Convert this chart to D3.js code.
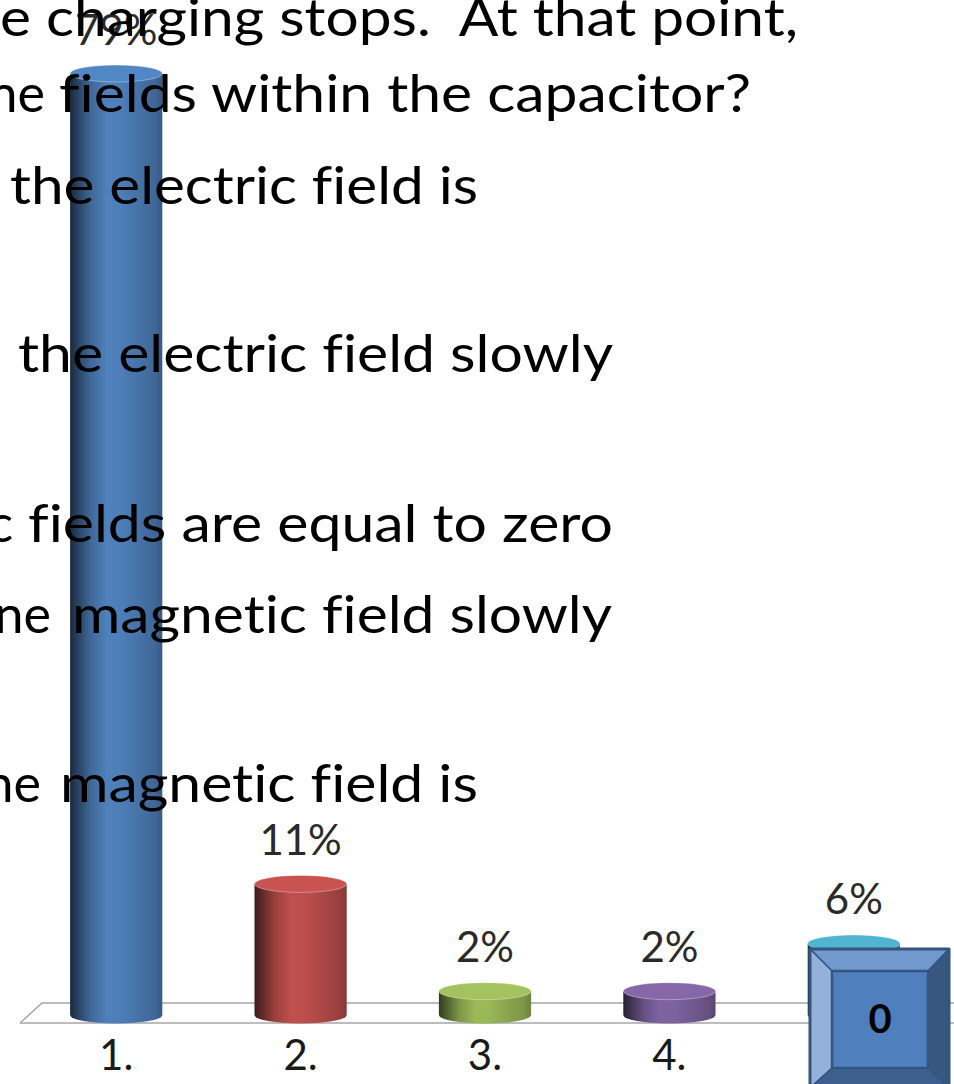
<!DOCTYPE html>
<html>
<head>
<meta charset="utf-8">
<script src="https://cdn.jsdelivr.net/npm/d3@7"></script>
<style>
  html, body { margin: 0; padding: 0; background: #fff; overflow: hidden; }
  svg { display: block; }
  text { font-variant-ligatures: none; font-feature-settings: "liga" 0, "clig" 0; }
</style>
</head>
<body>
<svg id="chart" width="954" height="1084"></svg>
<script>
// ---- data ----
const categories = ["1.", "2.", "3.", "4.", "5."];
const percentages = [79, 11, 2, 2, 6];
const barColors = ["#4F81BD", "#C0504D", "#9BBB59", "#8064A2", "#4BACC6"];

// question text behind the chart (left part of each line is cut off by the slide edge)
const questionLead = ["", "ne", "", "", "c", "ne", "ne"];
const questionBody = [
  "e charging stops.  At that point,",
  "fields within the capacitor?",
  "the electric field is",
  "the electric field slowly",
  "fields are equal to zero",
  "magnetic field slowly",
  "magnetic field is"
];
const countdownValue = "0";

// ---- layout ----
const W = 954, H = 1084;
const textLayout = [
  { x0: 0,  x1: 798, y: 36,  leadEnd: 0 },
  { x0: 59, x1: 751, y: 112, leadEnd: 45 },
  { x0: 10, x1: 478, y: 204, leadEnd: 0 },
  { x0: 18, x1: 613, y: 372, leadEnd: 0 },
  { x0: 28, x1: 613, y: 542, leadEnd: 13 },
  { x0: 72, x1: 612, y: 633, leadEnd: 51 },
  { x0: 60, x1: 478, y: 802, leadEnd: 41 }
];
const baseY = 1015;      // centre of the bottom ellipse of each cylinder
const topY = 73.5;       // centre of the top ellipse for the largest value
const capRy = 8.5;       // vertical radius of cylinder ellipses
const floorFront = 1023, floorBack = 1003, floorDepth = 22;

const svg = d3.select("#chart");
const defs = svg.append("defs");

const x = d3.scaleBand()
  .domain(categories)
  .range([24, 946])
  .paddingInner(0.5)
  .paddingOuter(0.25);

const y = d3.scaleLinear()
  .domain([0, d3.max(percentages)])
  .range([baseY, topY]);

const bars = categories.map((c, i) => ({ cat: c, value: percentages[i], color: barColors[i], i }));

// horizontal shading for the cylinder sides
const shade = [
  [0, 0.32], [0.08, 0.5], [0.22, 0.8], [0.4, 1.0], [0.55, 0.98],
  [0.75, 0.88], [0.92, 0.8], [1, 0.7]
];
bars.forEach(b => {
  const g = defs.append("linearGradient")
    .attr("id", "cyl" + b.i)
    .attr("x1", "0%").attr("x2", "100%").attr("y1", "0%").attr("y2", "0%");
  const base = d3.rgb(b.color);
  shade.forEach(([o, k]) => {
    g.append("stop")
      .attr("offset", o)
      .attr("stop-color", d3.rgb(base.r * k, base.g * k, base.b * k).formatHex());
  });
});

// ---- floor ----
const floor = svg.append("g")
  .attr("fill", "none")
  .attr("stroke", "#a6a6a6")
  .attr("stroke-width", 1.5);
floor.append("path")
  .attr("d", `M20,${floorFront} L${20 + floorDepth},${floorBack} L${W + 30},${floorBack}`);
floor.append("path")
  .attr("d", `M20,${floorFront} L${W + 10},${floorFront}`);

// ---- cylinders ----
const barG = svg.append("g");
bars.forEach(b => {
  const x0 = x(b.cat), bw = x.bandwidth(), x1 = x0 + bw, rx = bw / 2;
  const yT = y(b.value), yB = y(0);
  barG.append("path")
    .attr("d", `M${x0},${yT} L${x0},${yB} A${rx},${capRy} 0 0 0 ${x1},${yB} L${x1},${yT} Z`)
    .attr("fill", `url(#cyl${b.i})`);
  barG.append("ellipse")
    .attr("cx", x0 + rx)
    .attr("cy", yT)
    .attr("rx", rx)
    .attr("ry", capRy)
    .attr("fill", d3.color(b.color).brighter(0.12).formatHex())
    .attr("stroke", "#ffffff")
    .attr("stroke-opacity", 0.35)
    .attr("stroke-width", 1);
});

// value labels
svg.append("g")
  .selectAll("text")
  .data(bars)
  .join("text")
  .attr("x", d => x(d.cat) + x.bandwidth() / 2)
  .attr("y", d => y(d.value) - 29)
  .attr("text-anchor", "middle")
  .attr("font-family", "Lato, 'Noto Sans', sans-serif")
  .attr("font-size", 42)
  .attr("fill", "#2a2a2a")
  .text(d => d.value + "%");

// category labels
svg.append("g")
  .selectAll("text")
  .data(bars)
  .join("text")
  .attr("x", d => x(d.cat) + x.bandwidth() / 2)
  .attr("y", 1070)
  .attr("text-anchor", "middle")
  .attr("font-family", "Lato, 'Noto Sans', sans-serif")
  .attr("font-size", 42)
  .attr("fill", "#1a1a1a")
  .text(d => d.cat);

// ---- question text ----
const qG = svg.append("g")
  .attr("font-family", "Lato, 'Noto Sans', sans-serif")
  .attr("font-size", 52)
  .attr("fill", "#000");
questionBody.forEach((t, i) => {
  const L = textLayout[i];
  qG.append("text")
    .attr("x", L.x0)
    .attr("y", L.y)
    .attr("textLength", L.x1 - L.x0)
    .attr("lengthAdjust", "spacingAndGlyphs")
    .style("white-space", "pre")
    .text(t);
  if (questionLead[i]) {
    qG.append("text")
      .attr("x", L.leadEnd)
      .attr("y", L.y)
      .attr("text-anchor", "end")
      .text(questionLead[i]);
  }
});

// ---- countdown box ----
const bx0 = 810, by0 = 949, bx1 = 949, by1 = 1088, bev = 22;
const ix0 = bx0 + bev, iy0 = by0 + bev, ix1 = bx1 - bev + 1, iy1 = by1 - 20;
const box = svg.append("g").attr("stroke", "#34557f").attr("stroke-width", 1.5).attr("stroke-linejoin", "round");
box.append("path")  // top bevel
  .attr("d", `M${bx0},${by0} L${bx1},${by0} L${ix1},${iy0} L${ix0},${iy0} Z`)
  .attr("fill", "#7199cd");
box.append("path")  // left bevel
  .attr("d", `M${bx0},${by0} L${ix0},${iy0} L${ix0},${iy1} L${bx0},${by1} Z`)
  .attr("fill", "#93b1da");
box.append("path")  // right bevel
  .attr("d", `M${bx1},${by0} L${bx1},${by1} L${ix1},${iy1} L${ix1},${iy0} Z`)
  .attr("fill", "#37577f");
box.append("path")  // bottom bevel
  .attr("d", `M${bx0},${by1} L${ix0},${iy1} L${ix1},${iy1} L${bx1},${by1} Z`)
  .attr("fill", "#3c5f8f");
box.append("rect")  // face
  .attr("x", ix0).attr("y", iy0)
  .attr("width", ix1 - ix0).attr("height", iy1 - iy0)
  .attr("fill", "#4f7fbd")
  .attr("stroke-width", 2.5);
box.append("rect")  // outline
  .attr("x", bx0).attr("y", by0)
  .attr("width", bx1 - bx0).attr("height", by1 - by0)
  .attr("fill", "none")
  .attr("stroke-width", 3);
svg.append("text")
  .attr("x", (ix0 + ix1) / 2)
  .attr("y", 1033)
  .attr("text-anchor", "middle")
  .attr("font-family", "Lato, 'Noto Sans', sans-serif")
  .attr("font-weight", 700)
  .attr("font-size", 40)
  .attr("fill", "#000")
  .text(countdownValue);
</script>
</body>
</html>
